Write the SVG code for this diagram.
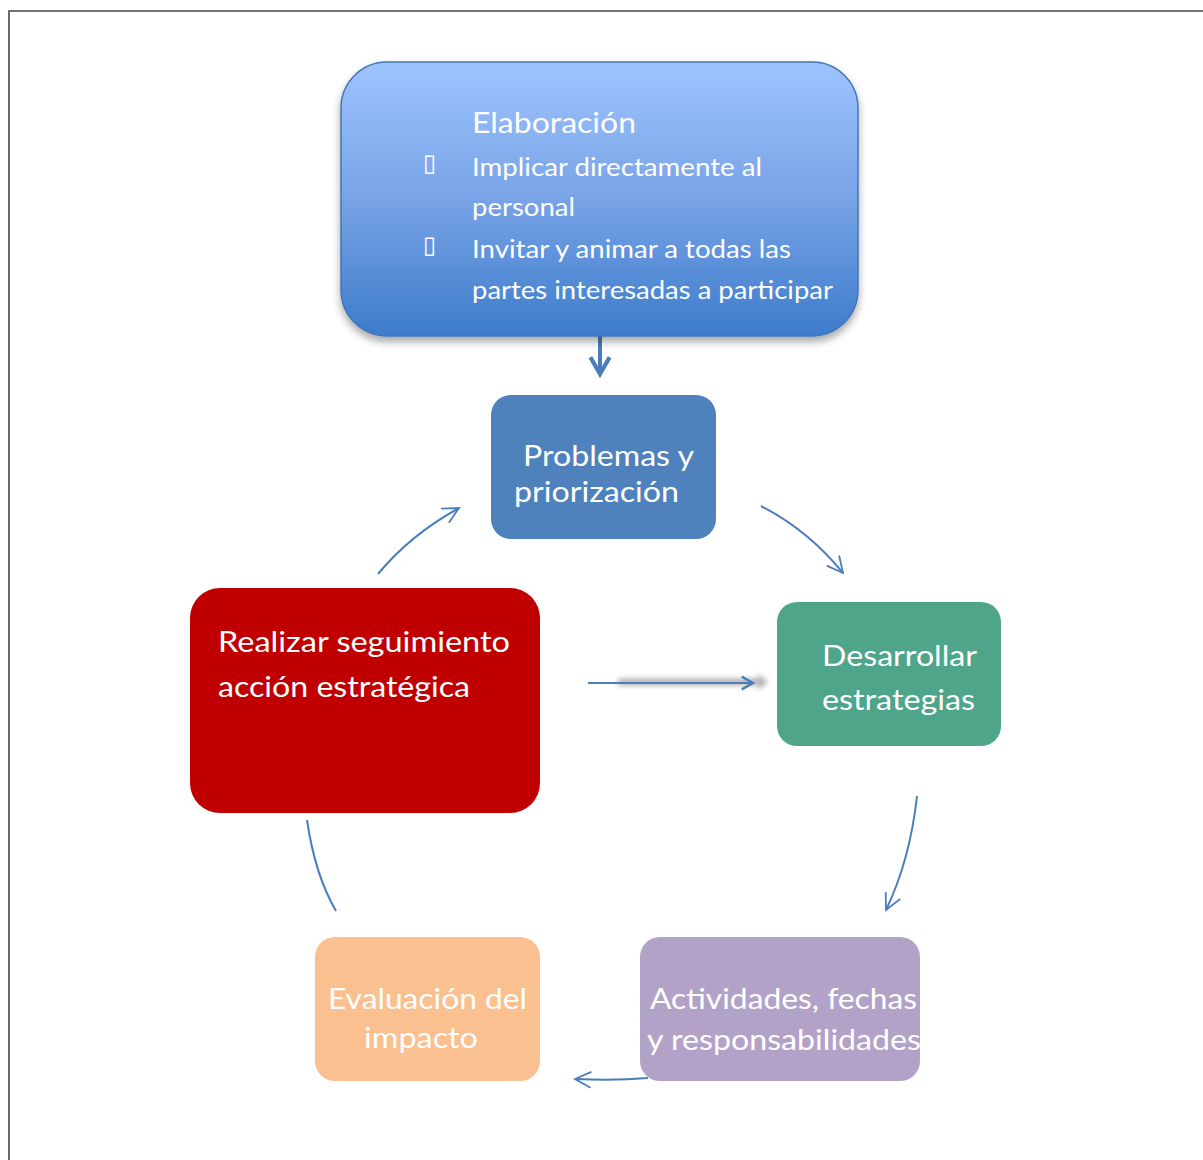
<svg xmlns="http://www.w3.org/2000/svg" width="1203" height="1160" viewBox="0 0 1203 1160">
<defs>
<linearGradient id="gTop" x1="0" y1="0" x2="0" y2="1">
<stop offset="0" stop-color="#9EC4FF"/>
<stop offset="0.5" stop-color="#78A3E6"/>
<stop offset="1" stop-color="#3D7CCB"/>
</linearGradient>
<filter id="shadow" x="-10%" y="-10%" width="120%" height="130%">
<feGaussianBlur in="SourceAlpha" stdDeviation="4"/>
<feOffset dx="0" dy="5" result="b"/>
<feComponentTransfer><feFuncA type="linear" slope="0.35"/></feComponentTransfer>
<feMerge><feMergeNode/><feMergeNode in="SourceGraphic"/></feMerge>
</filter>
<filter id="blur" filterUnits="userSpaceOnUse" x="600" y="660" width="190" height="45">
<feGaussianBlur stdDeviation="2.5"/>
</filter>
<marker id="open" viewBox="0 0 20 20" refX="18" refY="10" markerWidth="20" markerHeight="20" markerUnits="userSpaceOnUse" orient="auto">
<path d="M2 2 L18 10 L2 18" fill="none" stroke="#4A7EBB" stroke-width="1.8"/>
</marker>
<marker id="chev" viewBox="0 0 20 20" refX="17" refY="10" markerWidth="16" markerHeight="16" markerUnits="userSpaceOnUse" orient="auto">
<path d="M3 2 L17 10 L3 18" fill="none" stroke="#4A7EBB" stroke-width="3"/>
</marker>
<marker id="chevBig" viewBox="0 0 20 20" refX="17" refY="10" markerWidth="24" markerHeight="24" markerUnits="userSpaceOnUse" orient="auto">
<path d="M3 2 L17 10 L3 18" fill="none" stroke="#4A7EBB" stroke-width="3.5"/>
</marker>
</defs>
<style>
.t{font-family:Lato,"Open Sans","Liberation Sans",sans-serif;fill:#FFFFFF}
.c{fill:none;stroke:#4A7EBB;stroke-width:2}
.b{font-family:"DejaVu Sans",sans-serif;font-size:24px;fill:#FFFFFF}
</style>
<rect width="1203" height="1160" fill="#FFFFFF"/>
<path d="M9 1160 L9 11 L1203 11" fill="none" stroke="#444444" stroke-width="1.6"/>

<g id="connectors">
<line x1="600" y1="328" x2="600" y2="374" stroke="#4A7EBB" stroke-width="4" marker-end="url(#chevBig)"/>
<path class="c" d="M378 574 Q410 535 459 508" marker-end="url(#open)"/>
<path class="c" d="M761 506 Q808 530 843 573" marker-end="url(#open)"/>
<g filter="url(#blur)" opacity="0.75">
<line x1="618" y1="682" x2="760" y2="682" stroke="#9A9A9A" stroke-width="7"/>
<path d="M758 674 L768 682 L758 690 Z" fill="#9A9A9A"/>
</g>
<line x1="588" y1="683" x2="753" y2="683" stroke="#4A7EBB" stroke-width="2.2" marker-end="url(#chev)"/>
<path class="c" d="M917 796 Q910 860 886 910" marker-end="url(#open)"/>
<path class="c" d="M648 1078 Q615 1081 575 1079" marker-end="url(#open)"/>
<path class="c" d="M307 820 Q315 875 336 911"/>
</g>

<g id="elaboracion">
<rect x="341" y="62" width="517" height="274" rx="46" fill="url(#gTop)" stroke="#4474B5" stroke-width="1.5" filter="url(#shadow)"/>
<text class="t" x="472" y="133" font-size="29" textLength="164" lengthAdjust="spacingAndGlyphs">Elaboración</text>
<text class="b" x="423" y="171">▯</text>
<text class="t" x="472" y="176" font-size="25" textLength="290" lengthAdjust="spacingAndGlyphs">Implicar directamente al</text>
<text class="t" x="472" y="216" font-size="25" textLength="103" lengthAdjust="spacingAndGlyphs">personal</text>
<text class="b" x="423" y="253">▯</text>
<text class="t" x="472" y="258" font-size="25" textLength="319" lengthAdjust="spacingAndGlyphs">Invitar y animar a todas las</text>
<text class="t" x="472" y="299" font-size="25" textLength="361" lengthAdjust="spacingAndGlyphs">partes interesadas a participar</text>
</g>

<g id="problemas">
<rect x="491" y="395" width="225" height="144" rx="20" fill="#4F81BD"/>
<text class="t" x="523" y="466" font-size="29" textLength="171" lengthAdjust="spacingAndGlyphs">Problemas y</text>
<text class="t" x="514" y="502" font-size="29" textLength="165" lengthAdjust="spacingAndGlyphs">priorización</text>
</g>

<g id="desarrollar">
<rect x="777" y="602" width="224" height="144" rx="20" fill="#4FA58A"/>
<text class="t" x="822" y="666" font-size="29" textLength="155" lengthAdjust="spacingAndGlyphs">Desarrollar</text>
<text class="t" x="822" y="710" font-size="29" textLength="153" lengthAdjust="spacingAndGlyphs">estrategias</text>
</g>

<g id="seguimiento">
<rect x="190" y="588" width="350" height="225" rx="30" fill="#C00000"/>
<text class="t" x="218" y="652" font-size="29" textLength="292" lengthAdjust="spacingAndGlyphs">Realizar seguimiento</text>
<text class="t" x="218" y="697" font-size="29" textLength="252" lengthAdjust="spacingAndGlyphs">acción estratégica</text>
</g>

<g id="actividades">
<rect x="640" y="937" width="280" height="144" rx="20" fill="#B3A2C7"/>
<text class="t" x="650" y="1009" font-size="29" textLength="267" lengthAdjust="spacingAndGlyphs">Actividades, fechas</text>
<text class="t" x="647" y="1050" font-size="29" textLength="274" lengthAdjust="spacingAndGlyphs">y responsabilidades</text>
</g>

<g id="evaluacion">
<rect x="315" y="937" width="225" height="144" rx="20" fill="#FAC090"/>
<text class="t" x="328" y="1009" font-size="29" textLength="199" lengthAdjust="spacingAndGlyphs">Evaluación del</text>
<text class="t" x="364" y="1048" font-size="29" textLength="114" lengthAdjust="spacingAndGlyphs">impacto</text>
</g>
</svg>
